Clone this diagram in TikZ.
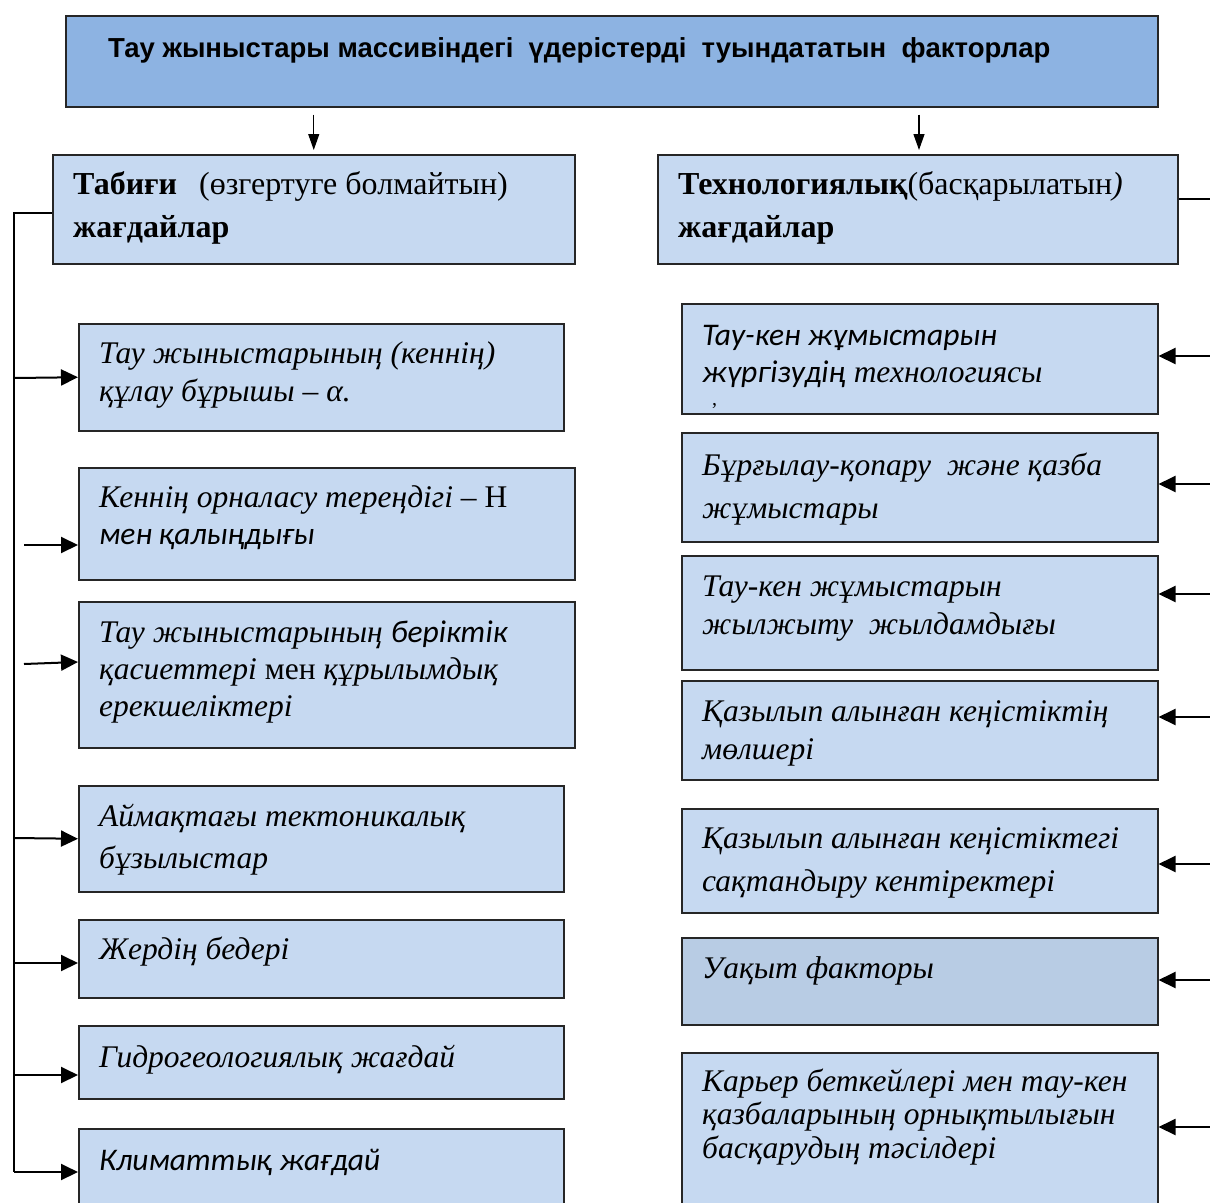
\documentclass[tikz,border=0pt]{standalone}
\usepackage{fontspec}
\setmainfont{Liberation Serif}
\newfontfamily\calfont{Carlito}
\newfontfamily\headfont{Liberation Sans}
\usetikzlibrary{arrows.meta}
\definecolor{titleblue}{HTML}{8DB3E2}
\definecolor{boxblue}{HTML}{C6D9F1}
\definecolor{boxdark}{HTML}{B8CCE4}
\begin{document}
\begin{tikzpicture}[x=1pt,y=-1pt,
  box/.style={draw=black!85, line width=1.5pt, fill=boxblue, inner sep=0pt, anchor=north west},
  lbl/.style={anchor=base west, inner sep=0pt, font=\fontsize{31.5}{38}\selectfont\itshape},
  hlbl/.style={anchor=base west, inner sep=0pt, font=\fontsize{32}{43}\selectfont},
  arr/.style={line width=2pt, -{Triangle[length=17pt,width=16pt]}},
  darr/.style={line width=1.2pt, -{Triangle[length=16pt,width=11pt]}},
  trunk/.style={line width=2pt}]
\clip (0,0) rectangle (1210,1202);
\fill[white] (0,0) rectangle (1210,1202);
% boxes
\node[box, fill=titleblue, minimum width=1092pt, minimum height=91pt] (title) at (65,15) {};
\node[box, minimum width=522pt, minimum height=109pt] (tab) at (52,154) {};
\node[box, minimum width=520pt, minimum height=109pt] (tech) at (657,154) {};
\node[box, minimum width=485pt, minimum height=107pt] (L1) at (78,323) {};
\node[box, minimum width=496pt, minimum height=112pt] (L2) at (78,467) {};
\node[box, minimum width=496pt, minimum height=146pt] (L3) at (78,601) {};
\node[box, minimum width=485pt, minimum height=106pt] (L4) at (78,785) {};
\node[box, minimum width=485pt, minimum height=78pt] (L5) at (78,919) {};
\node[box, minimum width=485pt, minimum height=73pt] (L6) at (78,1025) {};
\node[box, minimum width=485pt, minimum height=100pt] (L7) at (78,1128) {};
\node[box, minimum width=476pt, minimum height=110pt] (R1) at (681,303) {};
\node[box, minimum width=476pt, minimum height=109pt] (R2) at (681,432) {};
\node[box, minimum width=476pt, minimum height=114pt] (R3) at (681,555) {};
\node[box, minimum width=476pt, minimum height=99pt] (R4) at (681,680) {};
\node[box, minimum width=476pt, minimum height=104pt] (R5) at (681,808) {};
\node[box, fill=boxdark, minimum width=476pt, minimum height=87pt] (R6) at (681,937) {};
\node[box, minimum width=476pt, minimum height=180pt] (R7) at (681,1052) {};
% texts
\node[anchor=base west, inner sep=0pt, font=\headfont\bfseries\fontsize{27.5}{30}\selectfont] (ttitle) at (108,57) {Тау жыныстары массивіндегі\ \ үдерістерді\ \ туындататын\ \ факторлар};
\node[hlbl] (ttab) at (73,194) {\parbox[t]{520pt}{\textbf{Табиғи}\hskip 22pt(өзгертуге болмайтын)\\ \textbf{жағдайлар}}};
\node[hlbl] (ttech) at (678,194) {\parbox[t]{520pt}{\textbf{Технологиялық}(басқарылатын\textit{)}\\ \textbf{жағдайлар}}};
\node[lbl] (tL1) at (99,363) {\parbox[t]{480pt}{Тау жыныстарының (кеннің)\\ құлау бұрышы – α.}};
\node[lbl, font=\fontsize{31.5}{37}\selectfont\itshape] (tL2) at (99,507) {\parbox[t]{480pt}{Кеннің орналасу тереңдігі – {\upshape Н}\\ {\calfont мен қалыңдығы}}};
\node[lbl, font=\fontsize{31.5}{37}\selectfont\itshape] (tL3) at (99,642) {\parbox[t]{480pt}{Тау жыныстарының {\calfont беріктік}\\ қасиеттері {\upshape мен} құрылымдық\\ ерекшеліктері}};
\node[lbl, font=\fontsize{31.5}{42}\selectfont\itshape] (tL4) at (99,826) {\parbox[t]{480pt}{Аймақтағы тектоникалық\\ бұзылыстар}};
\node[lbl] (tL5) at (99,959) {Жердің бедері};
\node[lbl] (tL6) at (99,1067) {Гидрогеологиялық жағдай};
\node[lbl] (tL7) at (99,1170) {\calfont Климаттық жағдай};
\node[lbl, font=\fontsize{31.5}{37}\selectfont\itshape] (tR1) at (702,345) {\parbox[t]{460pt}{{\calfont Тау-кен жұмыстарын}\\ {\calfont жүргізудің} технологиясы}};
\node[anchor=base west, inner sep=0pt, font=\fontsize{20}{20}\selectfont] (stray) at (712,405) {,};
\node[lbl, font=\fontsize{31.5}{43}\selectfont\itshape] (tR2) at (702,475) {\parbox[t]{460pt}{Бұрғылау-қопару\ \ және қазба\\ жұмыстары}};
\node[lbl] (tR3) at (702,596) {\parbox[t]{460pt}{Тау-кен жұмыстарын\\ жылжыту\ \ жылдамдығы}};
\node[lbl] (tR4) at (702,721) {\parbox[t]{460pt}{Қазылып алынған кеңістіктің\\ мөлшері}};
\node[lbl, font=\fontsize{31.5}{43}\selectfont\itshape] (tR5) at (702,848) {\parbox[t]{460pt}{Қазылып алынған кеңістіктегі\\ сақтандыру кентіректері}};
\node[lbl] (tR6) at (702,978) {Уақыт факторы};
\node[lbl, font=\fontsize{31.5}{33.5}\selectfont\itshape] (tR7) at (702,1091) {\parbox[t]{460pt}{Карьер беткейлері мен тау-кен\\ қазбаларының орнықтылығын\\ басқарудың тәсілдері}};
% connectors
\draw[darr] ([yshift=-7pt]title.south -| tab.north) -- ([yshift=4pt]tab.north);
\draw[darr] ([yshift=-7pt]title.south -| 919,0) -- ([yshift=4pt]tech.north -| 919,0);
\coordinate (tj) at (14,213);
\coordinate (b1) at (14,378);
\coordinate (b2) at (24,545);
\coordinate (b3) at (24,664);
\coordinate (b4) at (14,838);
\coordinate (b5) at (14,963);
\coordinate (b6) at (14,1075);
\coordinate (b7) at (14,1172);
\draw[trunk] (tab.west |- tj) -- (tj) -- (b7);
\draw[arr] (b1) -- (L1.west);
\draw[arr] (b2) -- (L2.west |- b2);
\draw[arr] (b3) -- ([yshift=2pt]L3.west |- b3);
\draw[arr] (b4) -- (L4.west);
\draw[arr] (b5) -- (L5.west |- b5);
\draw[arr] (b6) -- (L6.west |- b6);
\draw[arr] (b7) -- (L7.west |- b7);
\coordinate (rt) at (1212,199);
\coordinate (r1) at (1212,356);
\coordinate (r2) at (1212,484);
\coordinate (r3) at (1212,594);
\coordinate (r4) at (1212,717);
\coordinate (r5) at (1212,864);
\coordinate (r6) at (1212,980);
\coordinate (r7) at (1212,1127);
\draw[trunk] (tech.east |- rt) -- (rt);
\draw[arr] (r1) -- (R1.east |- r1);
\draw[arr] (r2) -- (R2.east |- r2);
\draw[arr] (r3) -- (R3.east |- r3);
\draw[arr] (r4) -- (R4.east |- r4);
\draw[arr] (r5) -- (R5.east |- r5);
\draw[arr] (r6) -- (R6.east |- r6);
\draw[arr] (r7) -- (R7.east |- r7);
\end{tikzpicture}
\end{document}
